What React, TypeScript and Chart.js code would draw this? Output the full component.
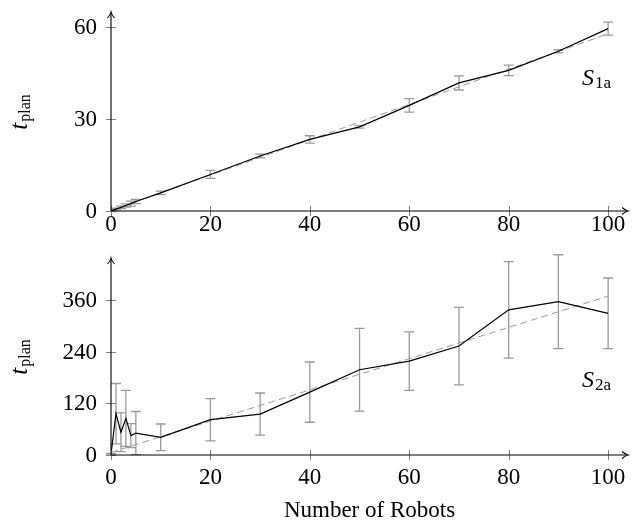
import React, { useEffect, useRef } from "react";
import { Chart, registerables } from "chart.js";

Chart.register(...registerables);

// ---------- data ----------
const robotsTop = [0, 1, 2, 3, 4, 5, 10, 20, 30, 40, 50, 60, 70, 80, 90, 100];
const tPlanTop = [0, 0.6, 1.2, 1.8, 2.4, 3.1, 5.9, 11.9, 17.9, 23.3, 27.4, 34.4, 41.7, 45.8, 52.0, 59.4];
const errTop = [0, 0.3, 0.4, 0.5, 0.8, 0.7, 0.6, 1.3, 0.6, 1.2, 0.4, 2.2, 2.3, 1.7, 0.5, 2.1];
const trendXTop = [0, 100];
const trendYTop = [0.2, 57.7];
const yTicksTop = [0, 30, 60];

const robotsBot = [0, 1, 2, 3, 4, 5, 10, 20, 30, 40, 50, 60, 70, 80, 90, 100];
const tPlanBot = [2, 96, 53, 85, 45, 51, 41, 82, 95, 146, 198, 218, 253, 337, 356, 329];
const errBot = [2, 70, 45, 65, 28, 50, 31, 49, 49, 70, 96, 68, 90, 112, 109, 82];
const trendXBot = [0, 100];
const trendYBot = [6, 369];
const yTicksBot = [0, 120, 240, 360];

const xTicks = [0, 20, 40, 60, 80, 100];
const xTitle = "Number of Robots";
const yTitleMain = "t";
const yTitleSub = "plan";
const seriesTop = ["S", "1a"];
const seriesBot = ["S", "2a"];

const SERIF = "'Liberation Serif', 'DejaVu Serif', serif";

// ---------- plugin ----------
const decorPlugin: any = {
  id: "decor",
  beforeDatasetsDraw(chart: any) {
    const o = chart.options.plugins.decor;
    const ctx = chart.ctx;
    const xs = chart.scales.x;
    const ys = chart.scales.y;
    ctx.save();
    ctx.strokeStyle = "#9a9a9a";
    ctx.lineWidth = 1.3;
    o.xs.forEach((xv: number, i: number) => {
      const e = o.err[i];
      if (!e) return;
      const px = xs.getPixelForValue(xv);
      const y1 = ys.getPixelForValue(o.ys[i] - e);
      const y2 = ys.getPixelForValue(o.ys[i] + e);
      ctx.beginPath();
      ctx.moveTo(px, y1);
      ctx.lineTo(px, y2);
      ctx.moveTo(px - 5, y1);
      ctx.lineTo(px + 5, y1);
      ctx.moveTo(px - 5, y2);
      ctx.lineTo(px + 5, y2);
      ctx.stroke();
    });
    ctx.restore();
  },
  afterDatasetsDraw(chart: any) {
    const o = chart.options.plugins.decor;
    const ctx = chart.ctx;
    const xs = chart.scales.x;
    const ys = chart.scales.y;
    const { left, right, top, bottom } = chart.chartArea;
    ctx.save();
    // tick marks
    ctx.strokeStyle = "#808080";
    ctx.lineWidth = 1;
    ctx.beginPath();
    o.xTicks.forEach((v: number) => {
      const px = Math.round(xs.getPixelForValue(v)) + 0.5;
      ctx.moveTo(px, bottom - 5);
      ctx.lineTo(px, bottom + 5);
    });
    o.yTicks.forEach((v: number) => {
      const py = Math.round(ys.getPixelForValue(v)) + 0.5;
      ctx.moveTo(left - 5, py);
      ctx.lineTo(left + 5, py);
    });
    ctx.stroke();
    // axes
    ctx.strokeStyle = "#000";
    ctx.lineWidth = 1.1;
    ctx.beginPath();
    ctx.moveTo(left, bottom);
    ctx.lineTo(right - 1, bottom);
    ctx.moveTo(left, bottom);
    ctx.lineTo(left, top + 1);
    ctx.stroke();
    // arrow heads
    ctx.lineWidth = 1.1;
    ctx.beginPath();
    ctx.moveTo(left - 3.5, top + 6);
    ctx.quadraticCurveTo(left - 0.5, top + 2.5, left, top);
    ctx.quadraticCurveTo(left + 0.5, top + 2.5, left + 3.5, top + 6);
    ctx.moveTo(right - 6, bottom - 3.5);
    ctx.quadraticCurveTo(right - 2.5, bottom - 0.5, right, bottom);
    ctx.quadraticCurveTo(right - 2.5, bottom + 0.5, right - 6, bottom + 3.5);
    ctx.stroke();
    // tick labels
    ctx.fillStyle = "#000";
    ctx.font = `23px ${SERIF}`;
    ctx.textAlign = "center";
    ctx.textBaseline = "middle";
    o.xTicks.forEach((v: number) => {
      ctx.fillText(String(v), xs.getPixelForValue(v), bottom + o.xLabelGap);
    });
    ctx.textAlign = "right";
    o.yTicks.forEach((v: number) => {
      ctx.fillText(String(v), left - 14, ys.getPixelForValue(v) + 1);
    });
    // y title (rotated)
    ctx.save();
    ctx.translate(0, o.yTitleY);
    ctx.rotate(-Math.PI / 2);
    ctx.textAlign = "left";
    ctx.textBaseline = "alphabetic";
    ctx.font = `italic 25px ${SERIF}`;
    const wT = ctx.measureText(yTitleMain).width;
    ctx.font = `16px ${SERIF}`;
    const wP = ctx.measureText(yTitleSub).width;
    const start = -(wT + 1 + wP) / 2;
    ctx.font = `italic 25px ${SERIF}`;
    ctx.fillText(yTitleMain, start, 27);
    ctx.font = `16px ${SERIF}`;
    ctx.fillText(yTitleSub, start + wT + 1, 30);
    ctx.restore();
    // series label
    ctx.textAlign = "left";
    ctx.textBaseline = "alphabetic";
    ctx.font = `italic 24px ${SERIF}`;
    ctx.fillText(o.series[0], o.seriesX, o.seriesY);
    const wS = ctx.measureText(o.series[0]).width;
    ctx.font = `17px ${SERIF}`;
    ctx.fillText(o.series[1], o.seriesX + wS + 1, o.seriesY + 3);
    // x title
    if (o.xTitle) {
      ctx.font = `23px ${SERIF}`;
      ctx.textAlign = "center";
      ctx.textBaseline = "middle";
      ctx.fillText(o.xTitle, (left + right) / 2, o.xTitleY);
    }
    ctx.restore();
  },
};

function makeChart(
  canvas: HTMLCanvasElement,
  cfg: {
    xs: number[];
    ys: number[];
    err: number[];
    tx: number[];
    ty: number[];
    yTicks: number[];
    ymax: number;
    padTop: number;
    xh: number;
    xLabelGap: number;
    yTitleY: number;
    series: string[];
    seriesX: number;
    seriesY: number;
    xTitle?: string;
    xTitleY?: number;
  }
) {
  return new Chart(canvas, {
    type: "line",
    data: {
      datasets: [
        {
          data: cfg.xs.map((x, i) => ({ x, y: cfg.ys[i] })),
          borderColor: "#000",
          borderWidth: 1.2,
          pointRadius: 0,
          tension: 0,
          fill: false,
        },
        {
          data: cfg.tx.map((x, i) => ({ x, y: cfg.ty[i] })),
          borderColor: "#9a9a9a",
          borderWidth: 1,
          borderDash: [7, 4],
          pointRadius: 0,
          tension: 0,
          fill: false,
        },
      ],
    },
    options: {
      responsive: false,
      animation: false,
      events: [],
      layout: { padding: { top: cfg.padTop, right: 4, left: 0, bottom: 0 } },
      scales: {
        x: {
          type: "linear",
          min: 0,
          max: 104,
          grid: { display: false, drawTicks: false },
          border: { display: false },
          ticks: { display: false },
          afterFit: (s: any) => {
            s.height = cfg.xh;
          },
        },
        y: {
          type: "linear",
          min: 0,
          max: cfg.ymax,
          grid: { display: false, drawTicks: false },
          border: { display: false },
          ticks: { display: false },
          afterFit: (s: any) => {
            s.width = 111;
          },
        },
      },
      plugins: {
        legend: { display: false },
        tooltip: { enabled: false },
        decor: {
          xs: cfg.xs,
          ys: cfg.ys,
          err: cfg.err,
          xTicks,
          yTicks: cfg.yTicks,
          xLabelGap: cfg.xLabelGap,
          yTitleY: cfg.yTitleY,
          series: cfg.series,
          seriesX: cfg.seriesX,
          seriesY: cfg.seriesY,
          xTitle: cfg.xTitle,
          xTitleY: cfg.xTitleY,
        },
      } as any,
    } as any,
    plugins: [decorPlugin],
  } as any);
}

export default function App() {
  const topRef = useRef<HTMLCanvasElement>(null);
  const botRef = useRef<HTMLCanvasElement>(null);

  useEffect(() => {
    const c1 = makeChart(topRef.current!, {
      xs: robotsTop,
      ys: tPlanTop,
      err: errTop,
      tx: trendXTop,
      ty: trendYTop,
      yTicks: yTicksTop,
      ymax: 64.8,
      padTop: 12,
      xh: 29,
      xLabelGap: 14,
      yTitleY: 112,
      series: seriesTop,
      seriesX: 582,
      seriesY: 85,
    });
    const c2 = makeChart(botRef.current!, {
      xs: robotsBot,
      ys: tPlanBot,
      err: errBot,
      tx: trendXBot,
      ty: trendYBot,
      yTicks: yTicksBot,
      ymax: 457.5,
      padTop: 18,
      xh: 72,
      xLabelGap: 23,
      yTitleY: 117,
      series: seriesBot,
      seriesX: 582,
      seriesY: 147,
      xTitle,
      xTitleY: 271,
    });
    return () => {
      c1.destroy();
      c2.destroy();
    };
  }, []);

  return (
    <div style={{ position: "absolute", left: 0, top: 0, width: 632, height: 527, background: "#fff" }}>
      <canvas
        ref={topRef}
        width={632}
        height={240}
        style={{ position: "absolute", left: 0, top: 0, width: 632, height: 240 }}
      />
      <canvas
        ref={botRef}
        width={632}
        height={287}
        style={{ position: "absolute", left: 0, top: 240, width: 632, height: 287 }}
      />
    </div>
  );
}
